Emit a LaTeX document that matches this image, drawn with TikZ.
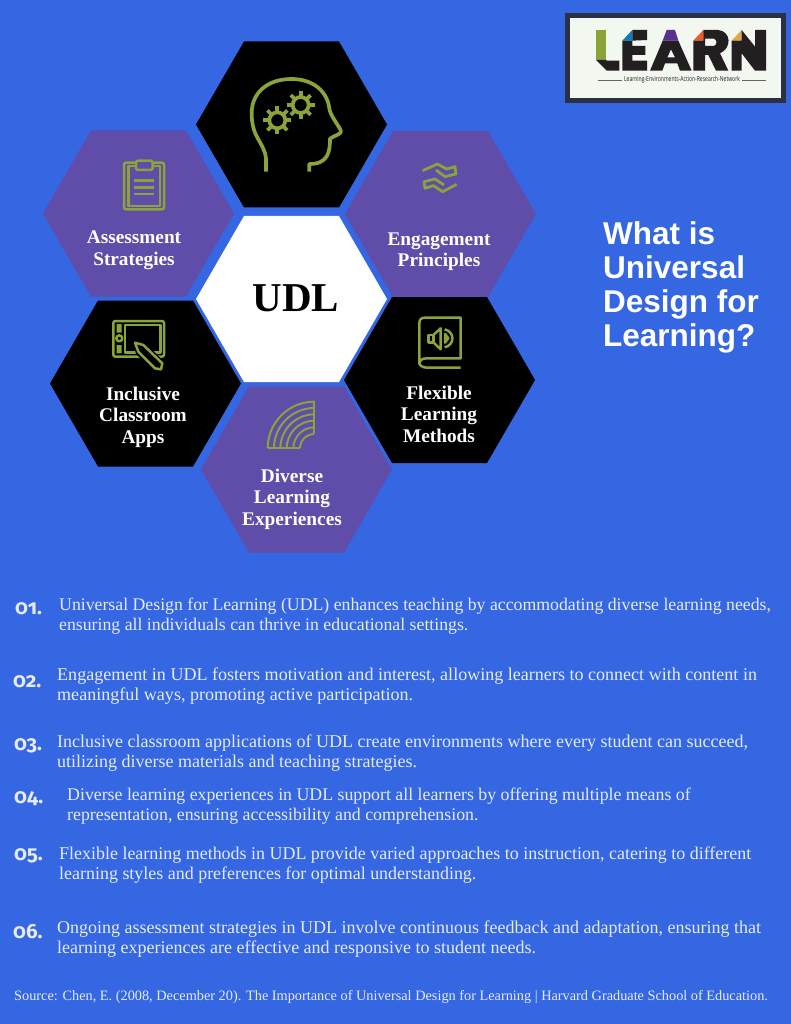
\documentclass[tikz,border=0pt]{standalone}
\usepackage{fontspec}
\setmainfont{Liberation Serif}
\newfontfamily\titlefont{Liberation Sans}
\newfontfamily\numfont[Numbers=OldStyle]{Fira Sans}
\newfontfamily\tinyfont{Open Sans}
\definecolor{bgblue}{HTML}{3567E2}
\definecolor{hexpurple}{HTML}{604CA9}
\definecolor{iconGreen}{HTML}{8AA33A}
\definecolor{logoInk}{HTML}{231F20}
\definecolor{logoFrame}{HTML}{2B3042}
\definecolor{logoPaper}{HTML}{F2F7F0}
\definecolor{logoBlue}{HTML}{0A7BBF}
\definecolor{logoPurple}{HTML}{5B2E91}
\definecolor{logoOrange}{HTML}{F15A22}
\definecolor{logoYellow}{HTML}{E0A943}
\definecolor{bodyText}{HTML}{E6EBFA}
\newcommand{\hexagonAt}[3]{\fill[#3] (#1-95.5,#2) -- (#1-47.5,#2-83) -- (#1+47.5,#2-83) -- (#1+95.5,#2) -- (#1+47.5,#2+83) -- (#1-47.5,#2+83) -- cycle;}
\newcommand{\gearAt}[2]{%
  \draw[iconline] (#1,#2) circle (24);
  \foreach \a in {0,45,...,315}{\draw[iconline,line cap=butt] (#1,#2) ++(\a:24) -- ++(\a:18);}
}
\tikzset{
  iconline/.style={draw=iconGreen,line width=3.7pt,line join=round},
  thinicon/.style={draw=iconGreen,line width=2.5pt,line join=round},
  hextitle/.style={font=\bfseries\fontsize{19.3}{21.5}\selectfont,text=white,align=center,inner sep=0pt},
  bodytxt/.style={font=\fontsize{#1}{20}\selectfont,text=bodyText,align=left,anchor=north west,inner sep=0pt},
  numtxt/.style={font=\numfont\bfseries\fontsize{20.5}{21}\selectfont,text=bodyText,anchor=west,inner sep=0pt}
}
\begin{document}
\begin{tikzpicture}[x=1pt,y=-1pt]
\useasboundingbox (0,0) rectangle (791,1024);
\fill[bgblue] (0,0) rectangle (791,1024);
% hexagons
\hexagonAt{291.5}{124.5}{black}
\hexagonAt{138.5}{213.5}{hexpurple}
\hexagonAt{440.5}{214}{hexpurple}
\hexagonAt{291.5}{299}{white}
\hexagonAt{145.5}{383.5}{black}
\hexagonAt{439.5}{380}{black}
\hexagonAt{296.5}{469.5}{hexpurple}
% head icon
\begin{scope}[shift={(190,30)},scale=1/3]
\draw[iconline] (228,425) -- (228,385) .. controls (222,335) and (185,325) .. (185,250)
 .. controls (185,190) and (230,147) .. (305,147) .. controls (370,147) and (412,185) .. (418,235)
 .. controls (420,255) and (445,285) .. (453,303) .. controls (456,312) and (430,318) .. (420,326)
 .. controls (420,365) and (415,402) .. (358,402) -- (358,425);
\gearAt{262}{271}
\gearAt{332}{225}
\end{scope}
% clipboard
\begin{scope}[shift={(40,130)},scale=1/3]
\draw[thinicon,rounded corners=2pt] (288,98) -- (252,98) -- (252,238) -- (372,238) -- (372,98) -- (338,98);
\draw[thinicon] (288,108) -- (265,108) -- (265,228) -- (360,228) -- (360,108) -- (338,108);
\draw[thinicon,rounded corners=2pt] (288,92) rectangle (338,120);
\draw[thinicon] (283,152) -- (342,152) (283,172) -- (342,172) (283,192) -- (342,192);
\end{scope}
% waves
\begin{scope}[shift={(410,155)},scale=1/3]
\draw[thinicon,line width=2.8pt] (38,47) -- (82,27) -- (110,42) -- (135,35) -- (138,57) -- (105,65) -- (78,45);
\draw[thinicon,line width=2.8pt] (140,88) -- (98,110) -- (70,92) -- (45,100) -- (42,80) -- (75,72) -- (102,90);
\end{scope}
% tablet
\begin{scope}[shift={(100,310)},scale=1/3]
\draw[thinicon,rounded corners=2pt] (40,33) rectangle (192,140);
\draw[thinicon] (75,45) rectangle (182,128);
\fill[iconGreen] (50,42) rectangle (65,68) (50,105) rectangle (65,130);
\draw[thinicon] (58,85) circle (9);
\fill[black] (98,90) -- (135,98) -- (197,160) -- (192,187) -- (160,184) -- (108,132) -- cycle;
\draw[thinicon] (105,98) -- (130,105) -- (187,160) -- (183,178) -- (165,175) -- (115,125) -- cycle;
\end{scope}
% book
\begin{scope}[shift={(350,140)},scale=1/3]
\draw[thinicon] (332,655) -- (230,655) .. controls (215,655) and (208,662) .. (208,672) -- (208,550) .. controls (208,538) and (214,533) .. (225,533) -- (332,533) -- cycle;
\draw[thinicon] (208,668) .. controls (208,678) and (220,683) .. (232,683) -- (332,683);
\draw[thinicon] (235,585) rectangle (250,607);
\draw[thinicon] (250,585) -- (272,565) -- (272,628) -- (250,607);
\draw[thinicon] (284,568) .. controls (315,575) and (315,615) .. (284,622);
\draw[thinicon] (285,582) -- (295,595) -- (285,608) -- cycle;
\end{scope}
% rainbow
\begin{scope}[shift={(200,380)},scale=1/3]
\draw[thinicon,line width=2pt] (343,160) -- (343,63) (203,205) -- (300,205);
\foreach \r in {140,121,102,83,63,43}{\draw[thinicon,line width=2pt] (343-\r,205) arc[start angle=180,end angle=90,x radius=\r,y radius=-\r];}
\end{scope}
% hexagon texts
\node[inner sep=0pt,font=\bfseries\fontsize{41}{41}\selectfont,text=black] (udl) at (296,298) {UDL};
\node[hextitle] (assess) at (134,250.5) {Assessment\\Strategies};
\node[hextitle] (engage) at (439,251.5) {Engagement\\Principles};
\node[hextitle] (apps) at (143,417) {Inclusive\\Classroom\\Apps};
\node[hextitle] (flex) at (439,414) {Flexible\\Learning\\Methods};
\node[hextitle] (diverse) at (292,499) {Diverse\\Learning\\Experiences};
% title
\node[font=\titlefont\bfseries\fontsize{31.5}{34.2}\selectfont,text=white,align=left,anchor=north west,inner sep=0pt] (title) at (603,221) {What is\\Universal\\Design for\\Learning?};
% logo
\fill[logoFrame] (565,13) rectangle (786,103);
\fill[logoPaper] (570,18) rectangle (781,98);
\begin{scope}[shift={(540,0)},scale=1/3]
\fill[iconGreen] (168,90) rectangle (198,180);
\fill[logoInk] (168,180) -- (198,180) -- (200,182) -- (238,182) -- (238,212) -- (200,212) -- cycle;
\fill[logoBlue] (247,122) -- (277,90) -- (277,122) -- cycle;
\fill[logoInk] (277,90) -- (321,90) -- (321,120) -- (277,122) -- (277,138) -- (316,138) -- (316,165) -- (277,165) -- (277,182) -- (321,182) -- (321,212) -- (247,212) -- (247,122) -- (277,122) -- cycle;
\fill[logoPurple] (380,90) -- (405,90) -- (415,122) -- (368,122) -- cycle;
\fill[logoInk,even odd rule] (368,122) -- (415,122) -- (455,212) -- (420,212) -- (412,190) -- (375,190) -- (367,212) -- (330,212) -- cycle (393,148) -- (405,172) -- (382,172) -- cycle;
\fill[logoOrange] (460,122) -- (490,90) -- (490,122) -- cycle;
\fill[logoInk,even odd rule] (490,90) -- (535,90) .. controls (575,95) and (575,145) .. (540,160) -- (565,212) -- (528,212) -- (505,165) -- (495,165) -- (495,212) -- (460,212) -- (460,122) -- (490,122) -- cycle (495,116) -- (522,116) .. controls (532,120) and (532,134) .. (522,138) -- (495,138) -- cycle;
\fill[logoYellow] (575,122) -- (605,90) -- (605,122) -- cycle;
\fill[logoInk] (605,90) -- (645,140) -- (645,90) -- (678,90) -- (678,212) -- (645,212) -- (605,160) -- (605,212) -- (575,212) -- (575,122) -- (605,122) -- cycle;
\draw[logoInk!70,line width=0.8pt] (173,240) -- (247,240) (607,240) -- (678,240);
\end{scope}
\node[inner sep=0pt,text=logoInk,font=\tinyfont\fontsize{7}{7}\selectfont,xscale=0.72] (network) at (682,80) {Learning-Environments-Action-Research-Network};
% body
\node[numtxt] (n1) at (15,609) {01.};
\node[numtxt] (n2) at (13,682) {02.};
\node[numtxt] (n3) at (14,746) {03.};
\node[numtxt] (n4) at (14,799) {04.};
\node[numtxt] (n5) at (14,856) {05.};
\node[numtxt] (n6) at (13,932) {06.};
\node[bodytxt=17.75] (t1) at (59,598) {Universal Design for Learning (UDL) enhances teaching by accommodating diverse learning needs,\\ensuring all individuals can thrive in educational settings.};
\node[bodytxt=18.05] (t2) at (57,668) {Engagement in UDL fosters motivation and interest, allowing learners to connect with content in\\meaningful ways, promoting active participation.};
\node[bodytxt=18] (t3) at (57,735) {Inclusive classroom applications of UDL create environments where every student can succeed,\\utilizing diverse materials and teaching strategies.};
\node[bodytxt=17.8] (t4) at (67,788) {Diverse learning experiences in UDL support all learners by offering multiple means of\\representation, ensuring accessibility and comprehension.};
\node[bodytxt=17.95] (t5) at (59,847) {Flexible learning methods in UDL provide varied approaches to instruction, catering to different\\learning styles and preferences for optimal understanding.};
\node[bodytxt=18] (t6) at (57,921) {Ongoing assessment strategies in UDL involve continuous feedback and adaptation, ensuring that\\learning experiences are effective and responsive to student needs.};
\node[inner sep=0pt,anchor=west,font=\fontsize{14.3}{16}\selectfont,text=bodyText] (src) at (14,997) {Source: Chen, E. (2008, December 20). The Importance of Universal Design for Learning | Harvard Graduate School of Education.};
\end{tikzpicture}
\end{document}
